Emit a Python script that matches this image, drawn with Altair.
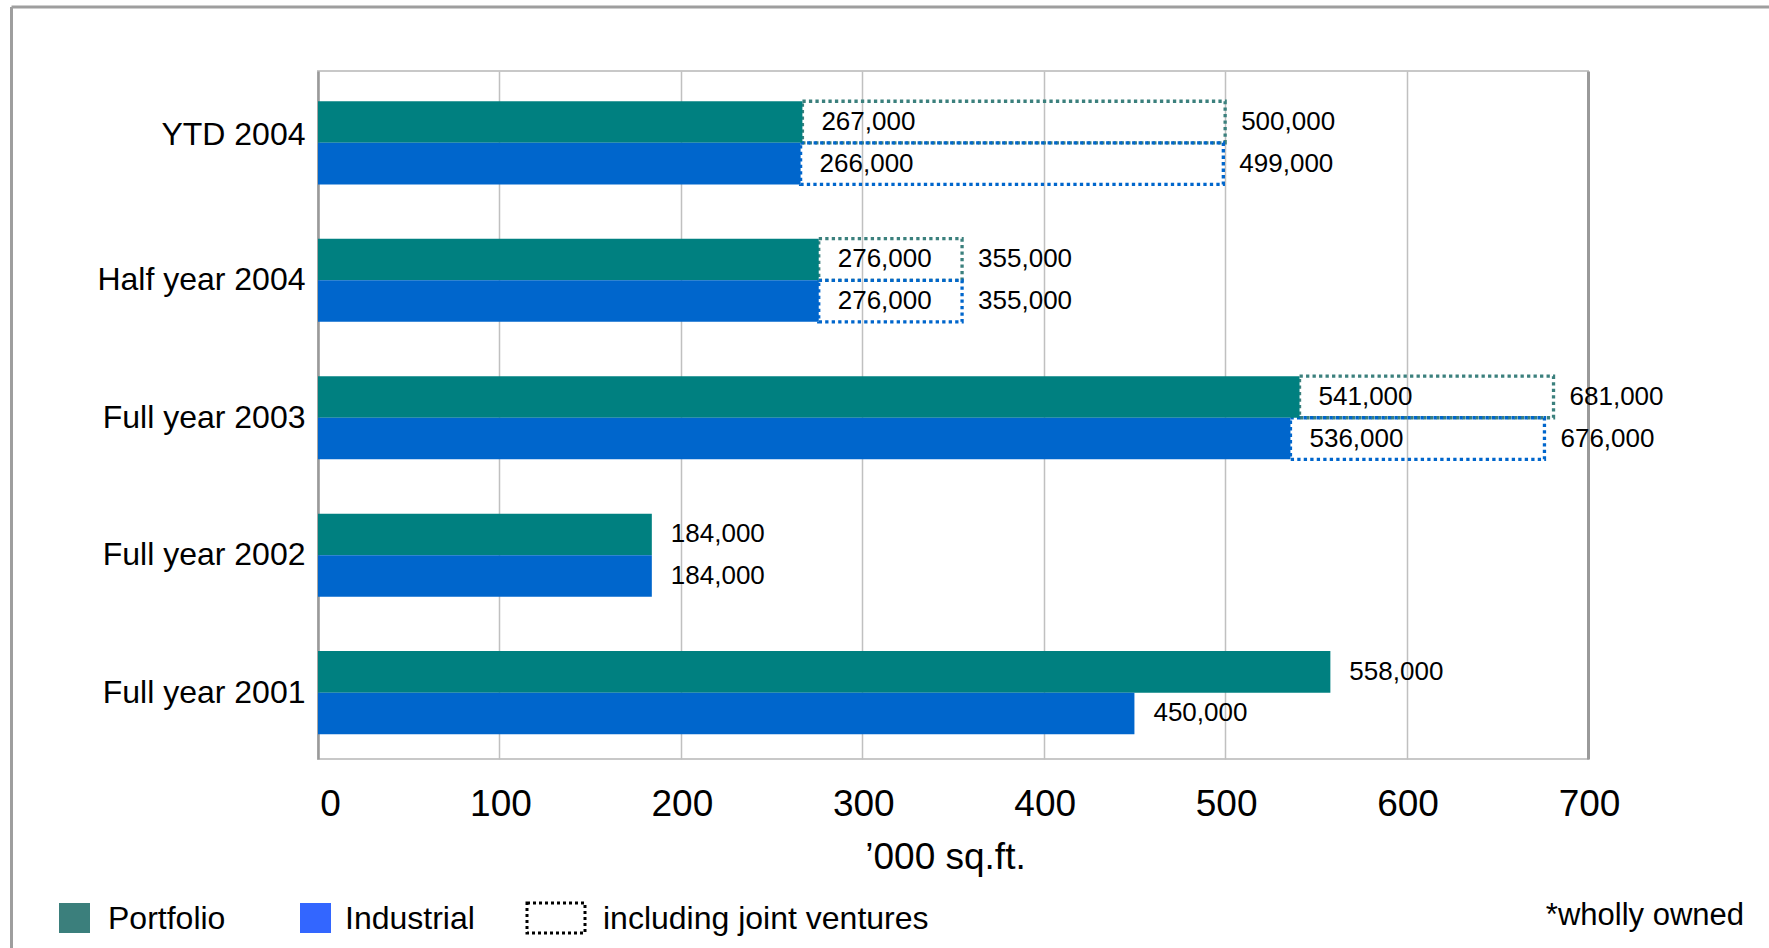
import altair as alt
import pandas as pd

categories = ["YTD 2004", "Half year 2004", "Full year 2003", "Full year 2002", "Full year 2001"]
series = ["Portfolio", "Industrial"]
portfolio_owned = [267, 276, 541, 184, 558]
industrial_owned = [266, 276, 536, 184, 450]
portfolio_jv = [500, 355, 681, None, None]
industrial_jv = [499, 355, 676, None, None]
x_ticks = [0, 100, 200, 300, 400, 500, 600, 700]
jv_label = "including joint ventures"
x_title = "\u2019000 sq.ft."
note = "*wholly owned"

bar_colors = ["#008080", "#0066CC"]
box_colors = ["#3B807D", "#0066CC"]
legend_colors = ["#3B7F7C", "#3366FF"]
FONT = "Liberation Sans"

rows = []
for i, c in enumerate(categories):
    for s, owned, jv in (("Portfolio", portfolio_owned[i], portfolio_jv[i]),
                         ("Industrial", industrial_owned[i], industrial_jv[i])):
        rows.append({"category": c, "series": s, "owned": owned, "jv": jv})
df = pd.DataFrame(rows)

y_enc = alt.Y("category:N", sort=categories,
              scale=alt.Scale(paddingInner=0.395, paddingOuter=0.2, align=0.55),
              axis=alt.Axis(title=None, labelFont=FONT, labelFontSize=32, labelColor="#000",
                            labelLimit=500, ticks=False, domain=True, domainColor="#9a9a9a",
                            domainWidth=2.5, labelPadding=13, grid=False,
                            labelOffset={"condition": {"test": "datum.value === 'YTD 2004'", "value": -8},
                                         "value": 0}))
yoff = alt.YOffset("series:N", sort=series, scale=alt.Scale(paddingInner=0, paddingOuter=0))
x_scale = alt.Scale(domain=[0, 700], nice=False, zero=True)
x_axis = alt.Axis(values=x_ticks, title=x_title, labelFont=FONT, labelFontSize=37, labelColor="#000",
                  labelFlush=False,
                  titleFont=FONT, titleFontSize=37, titleFontWeight="normal", titleColor="#000",
                  titleX=627, titleAlign="center",
                  ticks=False, domain=False, labelPadding=27, titlePadding=17,
                  grid=True,
                  gridColor={"condition": {"test": "datum.value === 700", "value": "#9a9a9a"}, "value": "#c0c0c0"},
                  gridWidth={"condition": {"test": "datum.value === 700", "value": 3}, "value": 1.5},
                  labelOffset={"condition": {"test": "datum.value === 0", "value": 12}, "value": 1})

base = alt.Chart(df)

boxes = base.transform_filter("isValid(datum.jv)").mark_bar(
    fill="white", fillOpacity=0, strokeWidth=3.3, strokeDash=[3.3, 3.2], opacity=1
).encode(
    x=alt.X("owned:Q", scale=x_scale, axis=x_axis, stack=None),
    x2="jv:Q",
    y=y_enc, yOffset=yoff,
    stroke=alt.Stroke("series:N", scale=alt.Scale(domain=series, range=box_colors), legend=None),
)

bars = base.mark_bar(opacity=1).encode(
    x=alt.X("owned:Q", scale=x_scale, axis=x_axis, stack=None),
    y=y_enc, yOffset=yoff,
    color=alt.Color("series:N", scale=alt.Scale(domain=series, range=bar_colors), legend=None),
)

owned_text = base.transform_calculate(lab="format(datum.owned * 1000, ',')").mark_text(
    align="left", baseline="middle", dx=19, font=FONT, fontSize=26, color="#000"
).encode(
    x=alt.X("owned:Q", scale=x_scale, axis=x_axis, stack=None),
    y=y_enc, yOffset=yoff, text="lab:N",
)

jv_text = base.transform_filter("isValid(datum.jv)").transform_calculate(
    lab="format(datum.jv * 1000, ',')"
).mark_text(
    align="left", baseline="middle", dx=16, font=FONT, fontSize=26, color="#000"
).encode(
    x=alt.X("jv:Q", scale=x_scale, axis=x_axis, stack=None),
    y=y_enc, yOffset=yoff, text="lab:N",
)


def txt(t, x, y, align="left"):
    return alt.Chart(pd.DataFrame({"t": [t]})).mark_text(
        align=align, baseline="alphabetic", font=FONT, fontSize=32 if align == "left" else 31,
        color="#000"
    ).encode(x=alt.value(x), y=alt.value(y), text="t:N")


def swatch(x0, x1, **kw):
    return alt.Chart(pd.DataFrame({"t": [0]})).mark_rect(**kw).encode(
        x=alt.value(x0), x2=alt.value(x1), y=alt.value(832), y2=alt.value(862)
    )


legend_layers = [
    swatch(-259, -228, color=legend_colors[0]),
    txt(series[0], -210, 858),
    swatch(-18, 13, color=legend_colors[1]),
    txt(series[1], 27, 858),
    swatch(209, 267, fill="white", stroke="#000", strokeWidth=3, strokeDash=[3, 3]),
    txt(jv_label, 285, 858),
    txt(note, 1426, 854, align="right"),
]

one = pd.DataFrame({"t": [0]})
frame_top = alt.Chart(one).mark_rule(color="#9e9e9e", strokeWidth=3).encode(
    x=alt.value(-306.5), x2=alt.value(1460), y=alt.value(-64)
)
frame_left = alt.Chart(one).mark_rule(color="#9e9e9e", strokeWidth=3).encode(
    x=alt.value(-306.5), y=alt.value(-64), y2=alt.value(900)
)

chart = alt.layer(
    frame_top, frame_left, boxes, bars, owned_text, jv_text, *legend_layers
).properties(
    width=1270, height=688,
    padding={"left": 318, "top": 71, "right": 181, "bottom": 189},
    autosize=alt.AutoSizeParams(type="none"),
    background="white",
).configure_view(stroke="#c8c8c8", strokeWidth=2)

chart.save("out.html", embed_options={"renderer": "svg", "actions": False})
